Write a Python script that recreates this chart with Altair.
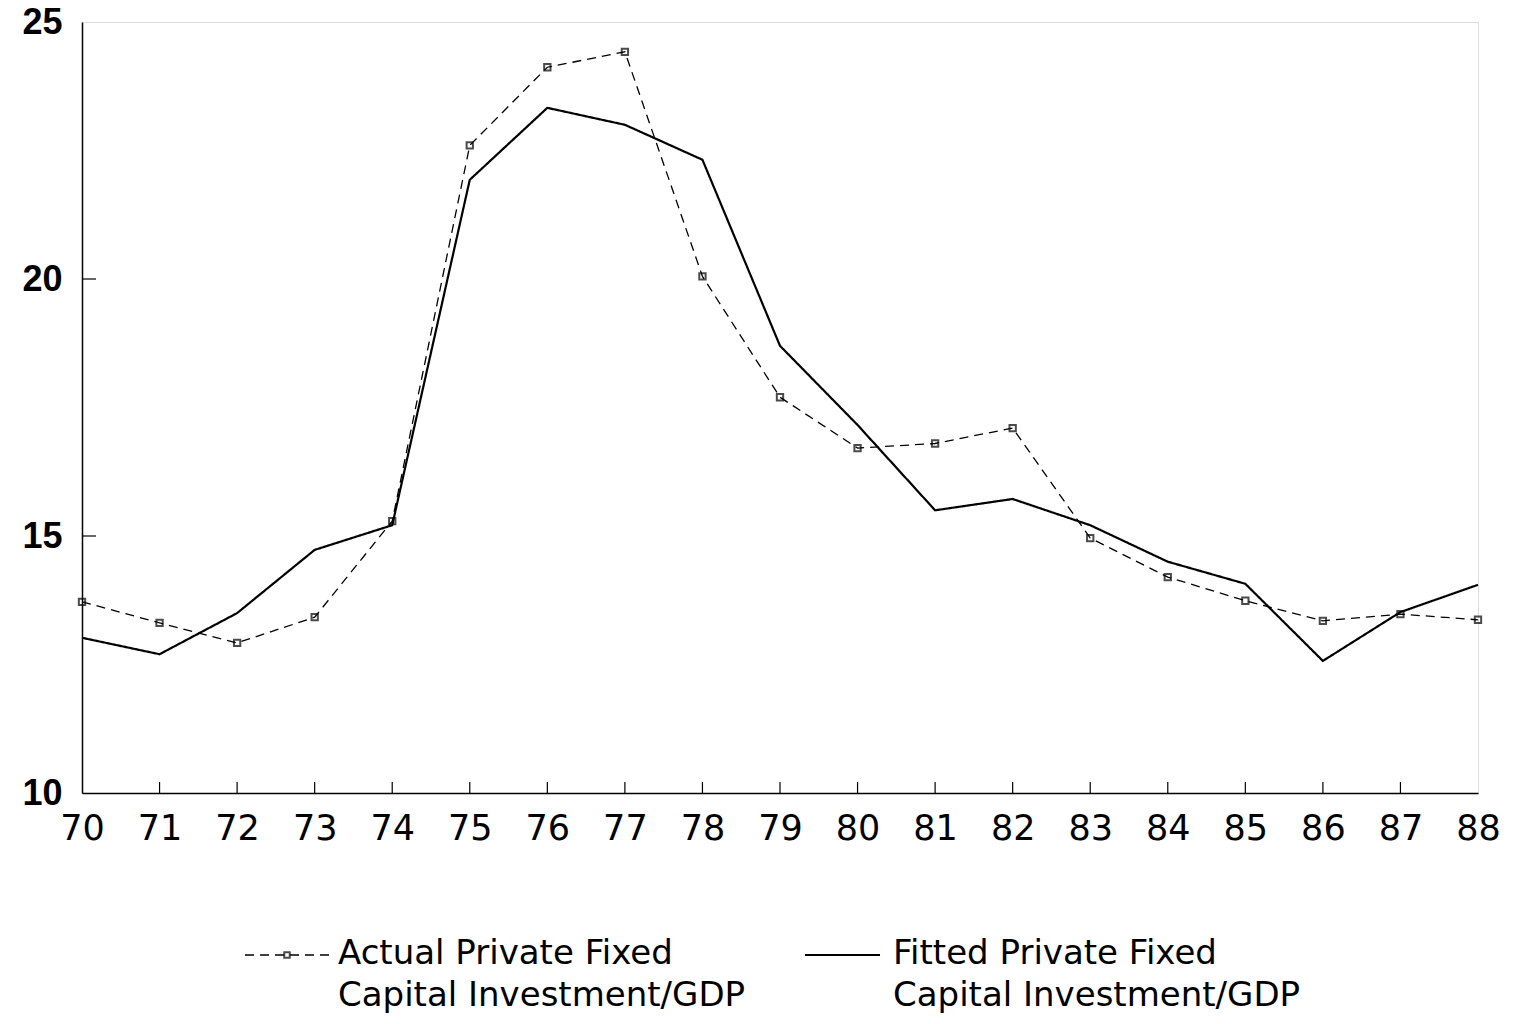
import altair as alt
import pandas as pd

years = list(range(70, 89))
actual = [13.72, 13.31, 12.92, 13.42, 15.29, 22.6, 24.12, 24.42, 20.05, 17.7,
          16.71, 16.8, 17.1, 14.96, 14.2, 13.74, 13.35, 13.48, 13.37]
fitted = [13.02, 12.7, 13.5, 14.73, 15.21, 21.93, 23.33, 23.0, 22.32, 18.7,
          17.16, 15.5, 15.72, 15.21, 14.5, 14.07, 12.57, 13.52, 14.05]
series_names = ["Actual Private Fixed\nCapital Investment/GDP",
                "Fitted Private Fixed\nCapital Investment/GDP"]
x_ticks = list(range(70, 89))
y_ticks = [10, 15, 20, 25]
x_inner_ticks = list(range(71, 88))
y_inner_ticks = [15, 20]

rows = []
for y, a, f in zip(years, actual, fitted):
    rows.append({"year": y, "value": a, "series": series_names[0]})
    rows.append({"year": y, "value": f, "series": series_names[1]})
df = pd.DataFrame(rows)

W, H = 1396, 771
LEG_Y = 933          # legend first-line centre, px below plot top
LEG_FONT = "DejaVu Sans"
LEG_SIZE = 34

xs = alt.Scale(domain=[70, 88], nice=False)
ys = alt.Scale(domain=[10, 25], nice=False)
dash_scale = alt.Scale(domain=series_names, range=[[9, 6], [1, 0]])
width_scale = alt.Scale(domain=series_names, range=[1.3, 2.2])

lines = alt.Chart(df).mark_line(color="black").encode(
    x=alt.X("year:Q", scale=xs,
            axis=alt.Axis(values=x_ticks, format="d", title=None, grid=False,
                          ticks=False, labelPadding=18, labelFontSize=35,
                          labelFlush=False, labelOverlap=False,
                          labelFont="DejaVu Sans", labelColor="black",
                          domainColor="black", domainWidth=1.5)),
    y=alt.Y("value:Q", scale=ys,
            axis=alt.Axis(values=y_ticks, title=None, grid=False, ticks=False,
                          labelPadding=20, labelFontSize=36,
                          labelFont="Liberation Sans", labelFlush=False,
                          labelFontWeight="bold", labelColor="black",
                          domainColor="black", domainWidth=1.5)),
    strokeDash=alt.StrokeDash("series:N", scale=dash_scale, legend=None),
    strokeWidth=alt.StrokeWidth("series:N", scale=width_scale, legend=None),
)

points = alt.Chart(df[df.series == series_names[0]]).mark_point(
    shape="square", size=40, color="black", filled=False, strokeWidth=2
).encode(x=alt.X("year:Q", scale=xs), y=alt.Y("value:Q", scale=ys))

xt = alt.Chart(pd.DataFrame({"t": x_inner_ticks})).mark_rule(
    color="black", strokeWidth=1.2
).encode(x=alt.X("t:Q", scale=xs), y=alt.value(H), y2=alt.value(H - 11))

yt = alt.Chart(pd.DataFrame({"t": y_inner_ticks})).mark_rule(
    color="black", strokeWidth=1.2
).encode(y=alt.Y("t:Q", scale=ys), x=alt.value(0), x2=alt.value(14))

# ---- legend (drawn by hand so that the two-line labels get proper spacing)
leg_df = pd.DataFrame({"series": series_names})
leg1 = leg_df.iloc[[0]]
leg2 = leg_df.iloc[[1]]

sym1 = alt.Chart(leg1).mark_rule(color="black", strokeWidth=1.4,
                                 strokeDash=[9, 6]).encode(
    x=alt.value(163), x2=alt.value(248), y=alt.value(LEG_Y))
mark1 = alt.Chart(leg1).mark_point(shape="square", size=30, color="black",
                                   filled=False, strokeWidth=2).encode(
    x=alt.value(205), y=alt.value(LEG_Y))
sym2 = alt.Chart(leg2).mark_rule(color="black", strokeWidth=2.2).encode(
    x=alt.value(723), x2=alt.value(798), y=alt.value(LEG_Y))

txt_kw = dict(align="left", baseline="top", font=LEG_FONT, fontSize=LEG_SIZE,
              lineBreak="\n", lineHeight=42, color="black")
txt1 = alt.Chart(leg1).mark_text(**txt_kw).encode(
    x=alt.value(256), y=alt.value(LEG_Y - 18), text="series:N")
txt2 = alt.Chart(leg2).mark_text(**txt_kw).encode(
    x=alt.value(811), y=alt.value(LEG_Y - 18), text="series:N")

chart = alt.layer(lines, points, xt, yt, sym1, mark1, sym2, txt1, txt2).properties(
    width=W, height=H,
    autosize=alt.AutoSizeParams(type="none"),
    padding={"left": 74, "top": 14, "right": 30, "bottom": 223},
).configure_view(
    stroke="#333333", strokeWidth=1, strokeDash=[40, 6, 3, 6]
).configure(background="white")

chart.save("out.html", embed_options={"renderer": "svg", "actions": False})
